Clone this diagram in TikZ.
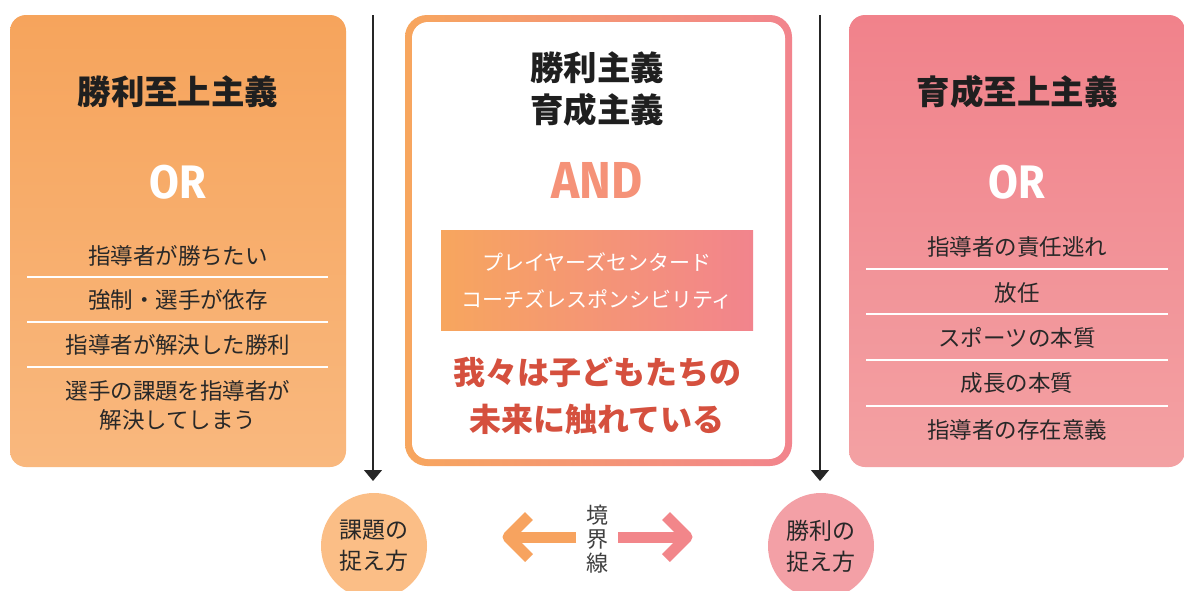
\documentclass[tikz,border=0pt]{standalone}
\usepackage{fontspec}
\setmainfont{Noto Sans CJK JP}
\newfontfamily\latinfont{Fira Sans}
\usetikzlibrary{arrows.meta}
\definecolor{orgtop}{RGB}{246,164,92}
\definecolor{orgbot}{RGB}{249,184,126}
\definecolor{pnktop}{RGB}{241,130,139}
\definecolor{pnkbot}{RGB}{243,161,163}
\definecolor{gorg}{RGB}{247,166,94}
\definecolor{gpnk}{RGB}{242,132,141}
\definecolor{andcol}{RGB}{245,146,120}
\definecolor{redtxt}{RGB}{213,80,62}
\definecolor{itemtxt}{RGB}{40,40,40}
\definecolor{circorg}{RGB}{251,190,134}
\definecolor{circpnk}{RGB}{243,160,166}
\definecolor{arrorg}{RGB}{247,163,95}
\definecolor{arrpnk}{RGB}{242,134,138}
\tikzset{
  x=1pt, y=-1pt,
  sidebox/.style={rounded corners=16pt, minimum width=336pt, minimum height=452pt, inner sep=0pt},
  titletxt/.style={font=\fontsize{33.5}{38}\selectfont\bfseries, text=black!88, inner sep=0pt},
  ortxt/.style={font=\latinfont\fontsize{47}{52}\selectfont\bfseries, text=white, inner sep=0pt},
  itemtext/.style={font=\fontsize{22.5}{26}\selectfont, text=itemtxt, inner sep=0pt, align=center},
  sepline/.style={white, line width=1.3pt},
  downarrow/.style={draw=black!85, line width=1.3pt, -{Triangle[width=18pt,length=11pt]}},
  circtxt/.style={circle, minimum size=106pt, inner sep=0pt, font=\fontsize{23}{31}\selectfont, text=itemtxt, align=center},
}
\begin{document}
\begin{tikzpicture}
\useasboundingbox[fill=white] (0,0) rectangle (1184,590);

% ---- left box
\node[sidebox, top color=orgtop, bottom color=orgbot] (L) at (178,241) {};
\node[titletxt] (Lt) at (178,92) {勝利至上主義};
\node[ortxt] (Lor) at (178,182) {\scalebox{0.92}[1]{OR}};
\node[itemtext] (L1) at (178,256) {指導者が勝ちたい};
\node[itemtext] (L2) at (178,300) {強制・選手が依存};
\node[itemtext] (L3) at (178,345) {指導者が解決した勝利};
\node[itemtext, text width=320pt] (L4) at (178,405) {選手の課題を指導者が\\[3pt]解決してしまう};
\coordinate (ls1a) at (27,277); \coordinate (ls1b) at (328,277);
\coordinate (ls2a) at (27,322); \coordinate (ls2b) at (328,322);
\coordinate (ls3a) at (27,367); \coordinate (ls3b) at (328,367);
\draw[sepline] (ls1a) -- (ls1b);
\draw[sepline] (ls2a) -- (ls2b);
\draw[sepline] (ls3a) -- (ls3b);

% ---- right box
\node[sidebox, top color=pnktop, bottom color=pnkbot] (R) at (1017,241) {};
\node[titletxt] (Rt) at (1017,92) {育成至上主義};
\node[ortxt] (Ror) at (1017,182) {\scalebox{0.92}[1]{OR}};
\node[itemtext] (R1) at (1017,247) {指導者の責任逃れ};
\node[itemtext] (R2) at (1017,293) {放任};
\node[itemtext] (R3) at (1017,338) {スポーツの本質};
\node[itemtext] (R4) at (1017,383) {成長の本質};
\node[itemtext] (R5) at (1017,430) {指導者の存在意義};
\coordinate (rs1a) at (866,269); \coordinate (rs1b) at (1168,269);
\coordinate (rs2a) at (866,314); \coordinate (rs2b) at (1168,314);
\coordinate (rs3a) at (866,360); \coordinate (rs3b) at (1168,360);
\coordinate (rs4a) at (866,406); \coordinate (rs4b) at (1168,406);
\draw[sepline] (rs1a) -- (rs1b);
\draw[sepline] (rs2a) -- (rs2b);
\draw[sepline] (rs3a) -- (rs3b);
\draw[sepline] (rs4a) -- (rs4b);

% ---- middle box
\node[rounded corners=22pt, minimum width=387pt, minimum height=451pt, inner sep=0pt,
      left color=gorg, right color=gpnk] (M) at (598.5,240.5) {};
\node[rounded corners=16pt, minimum width=373pt, minimum height=437pt, inner sep=0pt,
      fill=white] (Mi) at (598.5,240.5) {};
\node[titletxt, align=center, font=\fontsize{33.5}{42}\selectfont\bfseries] (Mt) at (597,89) {勝利主義\\育成主義};
\node[inner sep=0pt, text=andcol, font=\latinfont\fontsize{52}{56}\selectfont\bfseries] (And) at (597,180) {\scalebox{0.92}[1]{AND}};
\node[minimum width=312pt, minimum height=100pt, inner sep=0pt, left color=gorg, right color=gpnk] (G) at (597,280) {};
\node[inner sep=0pt, text=white, align=center, font=\fontsize{21}{37}\selectfont] (Gt) at (597,281) {プレイヤーズセンタード\\コーチズレスポンシビリティ};
\node[inner sep=0pt, text=redtxt, align=center, font=\fontsize{32}{47}\selectfont\bfseries] (Red) at (597,396) {我々は子どもたちの\\未来に触れている};

% ---- vertical arrows
\coordinate (va1) at (373,15); \coordinate (vb1) at (373,481);
\coordinate (va2) at (820,15); \coordinate (vb2) at (820,481);
\draw[downarrow] (va1) -- (vb1);
\draw[downarrow] (va2) -- (vb2);

% ---- circles
\node[circtxt, fill=circorg] (C1) at (374,546) {課題の\\捉え方};
\node[circtxt, fill=circpnk] (C2) at (821,546) {勝利の\\捉え方};

% ---- boundary arrows
\node[inner sep=0pt, align=center, text=black!75, font=\fontsize{22}{24}\selectfont] (B) at (597,539) {境\\界\\線};
\coordinate (lt) at (508,537); \coordinate (le) at (576,537);
\coordinate (lu) at (529,516); \coordinate (ld) at (529,558);
\coordinate (rt) at (687,537); \coordinate (re) at (618,537);
\coordinate (ru) at (666,516); \coordinate (rd) at (666,558);
\draw[arrorg, line width=11pt] (le) -- (lt);
\draw[arrorg, line width=11pt, line join=round] (lu) -- (lt) -- (ld);
\draw[arrpnk, line width=11pt] (re) -- (rt);
\draw[arrpnk, line width=11pt, line join=round] (ru) -- (rt) -- (rd);
\end{tikzpicture}
\end{document}
